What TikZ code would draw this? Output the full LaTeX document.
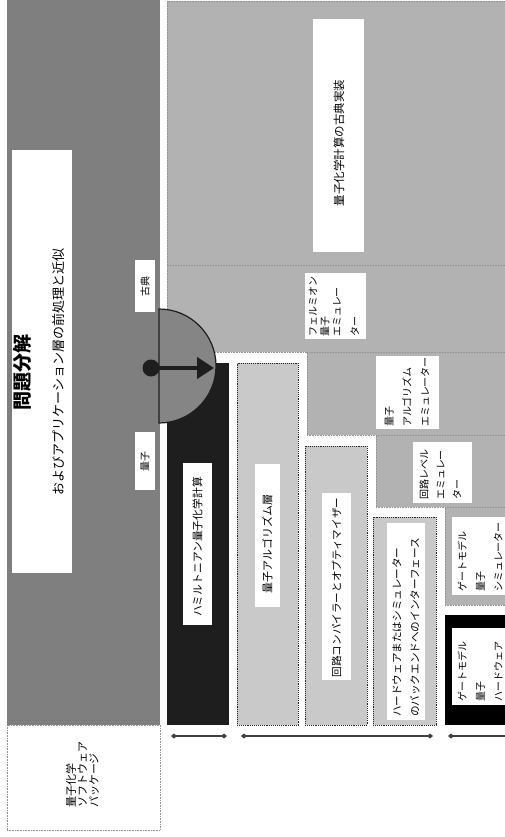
\documentclass[tikz,border=0pt]{standalone}
\usepackage{fontspec}
\setmainfont{Noto Sans CJK JP}
\usetikzlibrary{arrows.meta}
\definecolor{dgray}{HTML}{7F7F7F}
\definecolor{cgray}{HTML}{858585}
\definecolor{lgray}{HTML}{B2B2B2}
\definecolor{bgray}{HTML}{C9C9C9}
\definecolor{nearblack}{HTML}{1E1E1E}
\tikzset{
  region/.style={rectangle, anchor=north west, inner sep=0pt, outer sep=0pt},
  emu/.style={region, fill=lgray, draw=gray!85, densely dotted, line width=0.6pt},
  layer/.style={region, fill=bgray, draw=black!85, densely dotted, line width=0.9pt},
  wbox/.style={region, fill=white},
  txt/.style={rotate=90, inner sep=0pt, text=black, font=\fontsize{10.5}{12}\selectfont},
  brk/.style={{Diamond[length=6pt,width=5pt]}-{Diamond[length=6pt,width=5pt]}, line width=1.3pt, draw=black!75},
}
\begin{document}
\begin{tikzpicture}[x=1pt,y=-1pt]
\useasboundingbox (0,0) rectangle (505,837);
\fill[white] (0,0) rectangle (505,837);

% large regions
\node[region, fill=dgray, minimum width=153pt, minimum height=725pt] (prob) at (7,0) {};
\node[emu, minimum width=343pt, minimum height=264pt] (classic) at (167,1) {};
\node[emu, minimum width=343pt, minimum height=87pt] (fermion) at (167,265) {};
\node[emu, minimum width=203pt, minimum height=83pt] (algemu) at (307,352) {};
\node[emu, minimum width=134pt, minimum height=72pt] (circemu) at (376,435) {};
\node[emu, minimum width=65pt, minimum height=98pt] (gatesim) at (445,507) {};

% layer boxes
\node[region, fill=nearblack, minimum width=62pt, minimum height=362pt] (ham) at (167,363) {};
\node[layer, minimum width=61pt, minimum height=362pt] (alglayer) at (237,363) {};
\node[layer, minimum width=62pt, minimum height=279pt] (compiler) at (305,446) {};
\node[layer, minimum width=63pt, minimum height=208pt] (iface) at (373,517) {};
\node[region, fill=black, minimum width=65pt, minimum height=110pt] (hw) at (445,615) {};
\node[region, fill=white, draw=gray!85, densely dotted, line width=0.6pt, minimum width=153pt, minimum height=105pt] (pkg) at (7,725) {};

% semicircle and arrow
\filldraw[fill=cgray, draw=nearblack, line width=1.2pt] (159,309) arc[start angle=90, end angle=-90, radius=57pt] -- cycle;
\node[circle, fill=nearblack, inner sep=0pt, minimum size=17pt] (dot) at (151,368) {};
\coordinate (tip) at (214,368);
\draw[line width=4.5pt, nearblack, -{Triangle[length=17pt,width=21pt]}] (dot.center) -- (tip);

% white label boxes
\node[wbox, minimum width=60pt, minimum height=423pt] (titlebox) at (12,150) {};
\node[wbox, minimum width=51pt, minimum height=233pt] (classlab) at (313,19) {};
\node[wbox, minimum width=61pt, minimum height=66pt] (fermlab) at (305,273) {};
\node[wbox, minimum width=63pt, minimum height=73pt] (algemulab) at (376,356) {};
\node[wbox, minimum width=59pt, minimum height=61pt] (circlab) at (413,442) {};
\node[wbox, minimum width=60pt, minimum height=78pt] (gatesimlab) at (452,517) {};
\node[wbox, minimum width=60pt, minimum height=77pt] (hwlab) at (452,628) {};
\node[wbox, minimum width=29pt, minimum height=162pt] (hamlab) at (183,463) {};
\node[wbox, minimum width=25pt, minimum height=143pt] (alglab) at (255,464) {};
\node[wbox, minimum width=29pt, minimum height=187pt] (complab) at (322,493) {};
\node[wbox, minimum width=38pt, minimum height=197pt] (ifacelab) at (387,523) {};
\node[wbox, minimum width=20pt, minimum height=52pt] (kotenlab) at (135,260) {};
\node[wbox, minimum width=20pt, minimum height=58pt] (ryoshilab) at (135,432) {};

% texts
\node[txt, align=center, font=\fontsize{13}{34}\selectfont] (title) at (39,372)
  {{\fontsize{19}{34}\selectfont\bfseries 問題分解}\\およびアプリケーション層の前処理と近似};
\node[txt, font=\fontsize{11.5}{13}\selectfont] (tclass) at (339,143) {量子化学計算の古典実装};
\node[txt, anchor=west, align=left, font=\fontsize{10}{12}\selectfont] (tferm) at (334,337)
  {フェルミオン\\量子\\エミュレー\\[6pt]ター};
\node[txt, anchor=west, align=left, font=\fontsize{10}{18}\selectfont] (talgemu) at (407,427)
  {量子\\アルゴリズム\\エミュレーター};
\node[txt, anchor=west, align=left, font=\fontsize{10}{16.5}\selectfont] (tcirc) at (440.5,500)
  {回路レベル\\エミュレー\\ター};
\node[txt, anchor=west, align=left, font=\fontsize{10}{18}\selectfont] (tgatesim) at (480,592)
  {ゲートモデル\\量子\\シミュレーター};
\node[txt, anchor=west, align=left, font=\fontsize{10}{18}\selectfont] (thw) at (480,702)
  {ゲートモデル\\量子\\ハードウェア};
\node[txt, font=\fontsize{10.8}{12}\selectfont] (tham) at (197.5,547) {ハミルトニアン量子化学計算};
\node[txt, font=\fontsize{11}{12}\selectfont] (talg) at (267.5,544) {量子アルゴリズム層};
\node[txt, font=\fontsize{10.6}{12}\selectfont] (tcomp) at (336.5,587.5) {回路コンパイラーとオプティマイザー};
\node[txt, anchor=west, align=left, font=\fontsize{10.6}{18}\selectfont] (tiface) at (406,717)
  {ハードウェアまたはシミュレーター\\のバックエンドへのインターフェース};
\node[txt, font=\fontsize{10}{12}\selectfont] (tkoten) at (145,286) {古典};
\node[txt, font=\fontsize{10}{12}\selectfont] (tryoshi) at (145,461) {量子};
\node[txt, anchor=west, align=left, font=\fontsize{11}{11.5}\selectfont] (tpkg) at (82.5,808)
  {量子化学\\ソフトウェア\\パッケージ};

% brackets
\coordinate (b1a) at (171,736); \coordinate (b1b) at (227,736);
\coordinate (b2a) at (241,736); \coordinate (b2b) at (433,736);
\coordinate (b3a) at (448,736); \coordinate (b3b) at (511,736);
\draw[brk] (b1a) -- (b1b);
\draw[brk] (b2a) -- (b2b);
\draw[brk] (b3a) -- (b3b);
\end{tikzpicture}
\end{document}
